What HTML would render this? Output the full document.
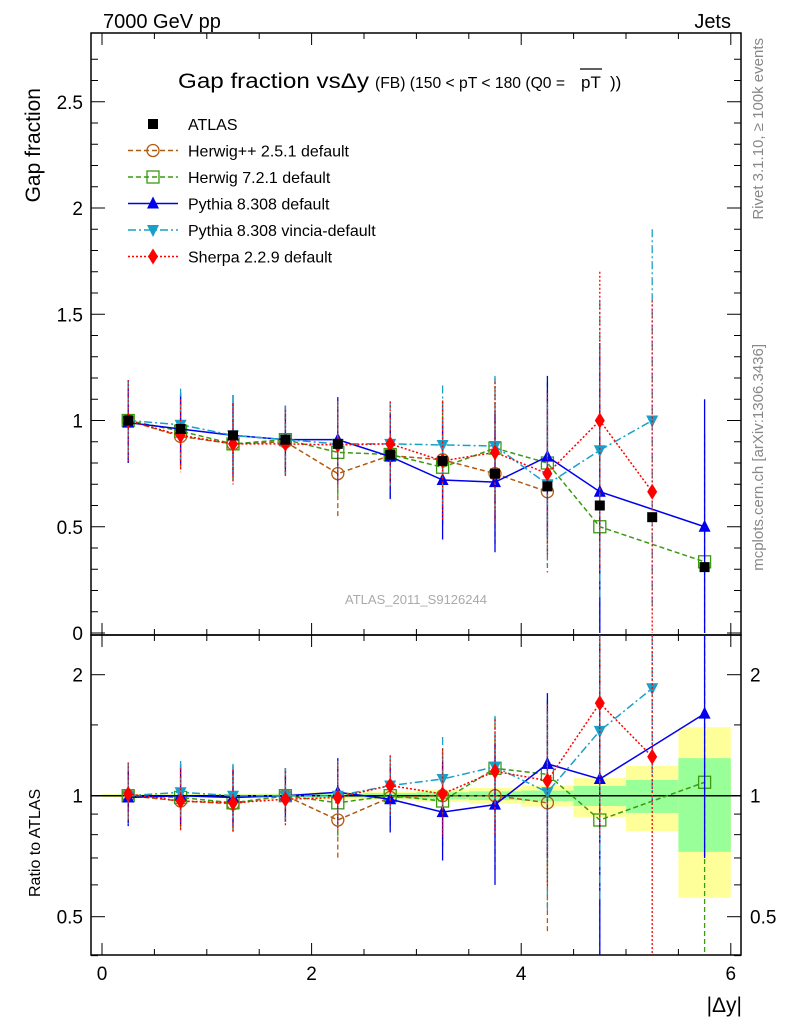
<!DOCTYPE html>
<html><head><meta charset="utf-8"><style>
html,body{margin:0;padding:0;background:#fff;}
svg{display:block;font-family:"Liberation Sans",sans-serif;}
</style></head><body>
<svg id="c" width="786" height="1024" viewBox="0 0 786 1024"></svg>
<script>
const xc=[0.25,0.75,1.25,1.75,2.25,2.75,3.25,3.75,4.25,4.75,5.25,5.75];
const atlas=[1.0,0.96,0.93,0.91,0.89,0.84,0.81,0.75,0.69,0.60,0.545,0.31];
const herwigpp=[1.0,0.925,0.89,0.90,0.75,0.835,0.815,0.75,0.665,null,null,null];
const herwig7=[1.0,0.95,0.89,0.91,0.85,0.84,0.78,0.87,0.80,0.50,null,0.335];
const pythia=[0.99,0.96,0.93,0.91,0.91,0.83,0.72,0.71,0.83,0.665,null,0.50];
const vincia=[1.0,0.98,0.93,0.91,0.89,0.89,0.885,0.88,0.70,0.86,1.0,null];
const sherpa=[1.0,0.93,0.89,0.89,0.885,0.89,0.81,0.85,0.75,1.0,0.665,null];
const rHpp=[1.0,0.97,0.955,1.0,0.87,0.99,1.0,1.0,0.96,null,null,null];
const rH7=[1.0,0.99,0.96,1.0,0.96,1.0,0.97,1.17,1.13,0.87,null,1.08];
const rPy=[0.99,1.0,0.99,1.0,1.02,0.98,0.91,0.95,1.2,1.1,null,1.6];
const rVi=[1.0,1.02,1.0,1.0,1.0,1.06,1.1,1.18,1.02,1.45,1.85,null];
const rSh=[1.01,0.97,0.96,0.98,0.99,1.06,1.01,1.15,1.09,1.7,1.25,null];
const errMain=[0.19,0.17,0.19,0.16,0.2,0.2,0.28,0.33,0.38,0.7,0.9,0.6];
const errRatioUp=[0.2,0.2,0.2,0.17,0.22,0.2,0.3,0.4,0.6,1.5,2.0,1.5];
const errRatioDn=[0.15,0.15,0.15,0.14,0.17,0.17,0.22,0.35,0.5,0.9,0.9,0.9];
const bandGreenLo=[0.995,0.995,0.994,0.993,0.99,0.985,0.98,0.975,0.97,0.943,0.906,0.725];
const bandGreenHi=[1.005,1.005,1.006,1.007,1.01,1.015,1.02,1.025,1.03,1.057,1.094,1.24];
const bandYelLo=[0.99,0.99,0.988,0.985,0.98,0.975,0.965,0.955,0.94,0.885,0.817,0.557];
const bandYelHi=[1.01,1.01,1.012,1.015,1.02,1.025,1.035,1.045,1.06,1.106,1.186,1.48];

const S=document.getElementById('c');const NS='http://www.w3.org/2000/svg';
function el(t,a,p){const e=document.createElementNS(NS,t);for(const k in a)e.setAttribute(k,a[k]);(p||S).appendChild(e);return e;}
const X=v=>102+v*104.8;
const Ym=v=>633-v*212.5;
const Yr=v=>795.7-Math.log2(v)*121;
const L=91,R=741,T=33,M=635,B=955;

for(let i=0;i<xc.length;i++){
  const b=el('rect',{x:X(xc[i]-0.25),y:Yr(bandYelHi[i]),width:X(0.5)-X(0),height:Yr(bandYelLo[i])-Yr(bandYelHi[i]),fill:'#ffff99'});
  
  const g=el('rect',{x:X(xc[i]-0.25),y:Yr(bandGreenHi[i]),width:X(0.5)-X(0),height:Yr(bandGreenLo[i])-Yr(bandGreenHi[i]),fill:'#99ff99'});
  
}
el('line',{x1:L,x2:R,y1:Yr(1),y2:Yr(1),stroke:'#000','stroke-width':1.5});

const f1=el('rect',{x:L,y:T,width:R-L,height:M-T,fill:'none',stroke:'#000','stroke-width':1.5});

const f2=el('rect',{x:L,y:M,width:R-L,height:B-M,fill:'none',stroke:'#000','stroke-width':1.5});


for(let v=0;v<=6.01;v+=0.5){const maj=Math.abs(v-Math.round(v/2)*2)<1e-6;const len=maj?12:6;
  for(const [y0,d] of [[T,1],[M,-1],[M,1],[B,-1]]) el('line',{x1:X(v),x2:X(v),y1:y0,y2:y0+d*len,stroke:'#000'});
  if(maj){const t=el('text',{x:X(v),y:980,'font-size':19,'text-anchor':'middle'});t.textContent=Math.round(v);
  }}
for(let v=0;v<=2.8;v+=0.1){const maj=Math.abs(v*2-Math.round(v*2))<1e-6;const len=maj?14:7;
  el('line',{x1:L,x2:L+len,y1:Ym(v),y2:Ym(v),stroke:'#000'});el('line',{x1:R,x2:R-len,y1:Ym(v),y2:Ym(v),stroke:'#000'});
  if(maj&&v<2.6){const t=el('text',{x:83,y:Ym(v)+7,'font-size':19,'text-anchor':'end'});t.textContent=v<0.01?'0':(+v.toFixed(1)).toString();
  }}
const rt=[0.4,0.5,0.6,0.7,0.8,0.9,1,1.5,2];
for(const v of rt){const maj=[0.5,1,2].includes(v);const len=maj?14:7;
  el('line',{x1:L,x2:L+len,y1:Yr(v),y2:Yr(v),stroke:'#000'});el('line',{x1:R,x2:R-len,y1:Yr(v),y2:Yr(v),stroke:'#000'});
  if(maj){for(const [xx,a] of [[83,'end'],[750,'start']]){const t=el('text',{x:xx,y:Yr(v)+7,'font-size':19,'text-anchor':a});t.textContent=v;
  }}}

const series=[
 {n:'herwigpp',m:herwigpp,r:rHpp,c:'#b05a10',d:'5,3',mk:'circ'},
 {n:'herwig7',m:herwig7,r:rH7,c:'#3a9a10',d:'5,3',mk:'sq'},
 {n:'pythia',m:pythia,r:rPy,c:'#0000ee',d:'',mk:'tri'},
 {n:'vincia',m:vincia,r:rVi,c:'#1aa0c8',d:'8,3,2,3',mk:'tri-d'},
 {n:'sherpa',m:sherpa,r:rSh,c:'#ff0000',d:'2,2',mk:'dia'}];
function marker(k,x,y,c,name){let e;
 if(k==='circ')e=el('circle',{cx:x,cy:y,r:6,fill:'none',stroke:c,'stroke-width':1.3});
 else if(k==='sq')e=el('rect',{x:x-6,y:y-6,width:12,height:12,fill:'none',stroke:c,'stroke-width':1.3});
 else if(k==='tri')e=el('polygon',{points:`${x},${y-7} ${x-6},${y+5} ${x+6},${y+5}`,fill:c});
 else if(k==='tri-d')e=el('polygon',{points:`${x},${y+7} ${x-6},${y-5} ${x+6},${y-5}`,fill:c});
 else if(k==='dia')e=el('polygon',{points:`${x},${y-8} ${x-5},${y} ${x},${y+8} ${x+5},${y}`,fill:c});
 else e=el('rect',{x:x-5,y:y-5,width:10,height:10,fill:c});
 }
function clipY(y,lo,hi){return Math.max(lo,Math.min(hi,y));}
for(const s of series){
 for(const [arr,Y,lo,hi,isR] of [[s.m,Ym,T,M,0],[s.r,Yr,M,B,1]]){
  let pts=[];
  for(let i=0;i<xc.length;i++){if(arr[i]==null)continue;
    const x=X(xc[i]);
    const up=isR?arr[i]+errRatioUp[i]:arr[i]+errMain[i];const dn=isR?Math.max(0.3,arr[i]-errRatioDn[i]):Math.max(0,arr[i]-errMain[i]);
    const e=el('line',{x1:x,x2:x,y1:clipY(Y(up),lo,hi),y2:clipY(Y(dn),lo,hi),stroke:s.c,'stroke-width':1.3,'stroke-dasharray':s.d});
    
    pts.push(x+','+Y(arr[i]));}
  const pl=el('polyline',{points:pts.join(' '),fill:'none',stroke:s.c,'stroke-width':1.5,'stroke-dasharray':s.d});
  
  for(let i=0;i<xc.length;i++){if(arr[i]==null)continue;marker(s.mk,X(xc[i]),Y(arr[i]),s.c,s.n+'-marker');}
 }
}
for(let i=0;i<xc.length;i++)marker('atlas',X(xc[i]),Ym(atlas[i]),'#000','atlas-marker');

const leg=[['ATLAS','#000','','atlas'],['Herwig++ 2.5.1 default','#b05a10','5,3','circ'],['Herwig 7.2.1 default','#3a9a10','5,3','sq'],
 ['Pythia 8.308 default','#0000ee','','tri'],['Pythia 8.308 vincia-default','#1aa0c8','8,3,2,3','tri-d'],['Sherpa 2.2.9 default','#ff0000','2,2','dia']];
leg.forEach((l,i)=>{const y=124+i*26.5;
 if(i>0){const ln=el('line',{x1:128,x2:178,y1:y,y2:y,stroke:l[1],'stroke-width':1.5,'stroke-dasharray':l[2]});}
 marker(l[3],153,y,l[1],'legend-marker');
 const t=el('text',{x:188,y:y+6,'font-size':16});t.textContent=l[0];});

function txt(x,y,s,str,o,name){const t=el('text',Object.assign({x:x,y:y,'font-size':s},o||{}));t.textContent=str;return t;}
txt(103,28,20,'7000 GeV pp',{},'energy-label');
txt(731,28,20,'Jets',{'text-anchor':'end'},'process-label');
txt(178,88,21,'Gap fraction vs\u0394y',{textLength:191,lengthAdjust:'spacingAndGlyphs'},'plot-title');
txt(375,88,16,'(FB)  (150 < pT < 180 (Q0 =',{textLength:190,lengthAdjust:'spacingAndGlyphs'},'plot-subtitle');
txt(581,88,17,'pT',{},'plot-subtitle-pt');
el('line',{x1:580,x2:602,y1:69,y2:69,stroke:'#000','stroke-width':1.3});
txt(610,88,17,'))',{},'plot-subtitle-end');
txt(40,88,21,'Gap fraction',{transform:'rotate(-90 40 88)','text-anchor':'end'},'y-axis-title');
txt(40,897,16,'Ratio to ATLAS',{transform:'rotate(-90 40 897)'},'ratio-y-axis-title');
txt(742,1012,21,'|\u0394y|',{'text-anchor':'end'},'x-axis-title');
txt(416,604,13,'ATLAS_2011_S9126244',{'text-anchor':'middle',fill:'#aaa'},'analysis-id');
txt(763,38,15,'Rivet 3.1.10, \u2265 100k events',{transform:'rotate(-90 763 38)','text-anchor':'end',fill:'#888'},'rivet-label');
txt(763,344,15,'mcplots.cern.ch [arXiv:1306.3436]',{transform:'rotate(-90 763 344)','text-anchor':'end',fill:'#888'},'mcplots-label');
</script>
</body></html>
